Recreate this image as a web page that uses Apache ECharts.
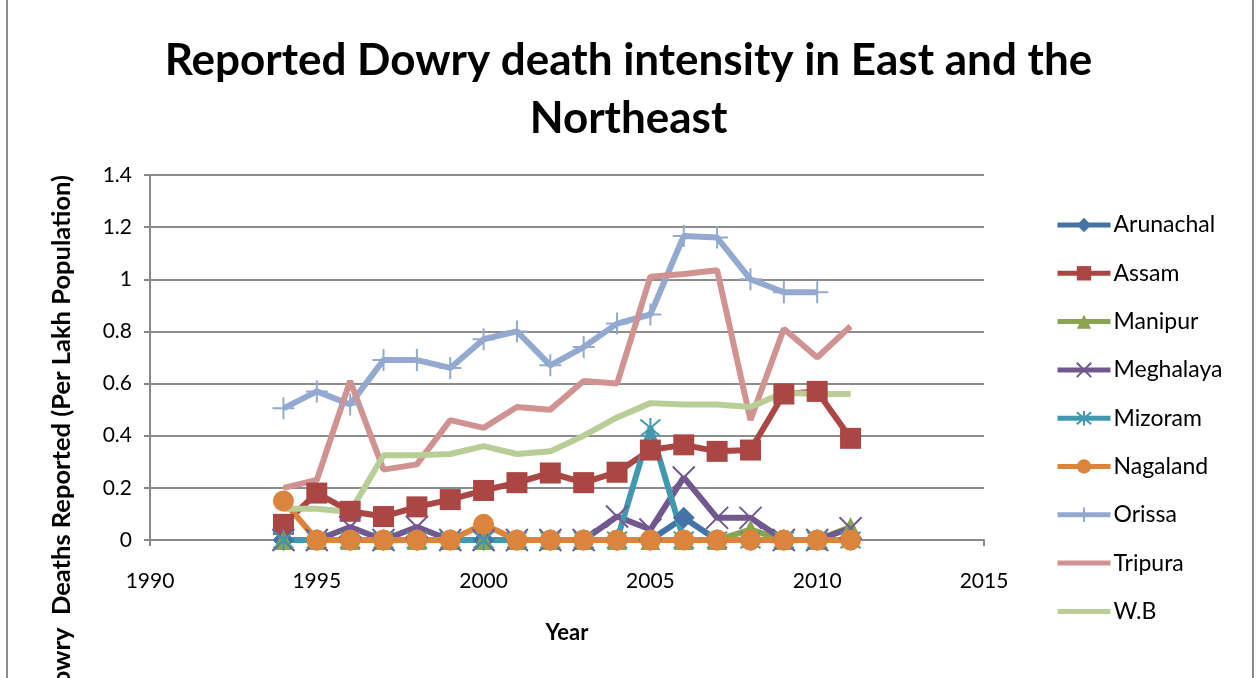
<!DOCTYPE html>
<html lang="en">
<head>
    <meta charset="UTF-8">
    <title>Dowry death intensity - East and Northeast</title>
    <style>
        html, body { margin: 0; padding: 0; background: #fff; }
        #main { width: 1257px; height: 678px; }
    </style>
    <script src="https://cdn.jsdelivr.net/npm/echarts@6/dist/echarts.min.js"></script>
</head>
<body>
<div id="main"></div>
<script type="text/javascript">
    // years on the x axis
    var years = [1994, 1995, 1996, 1997, 1998, 1999, 2000, 2001, 2002, 2003, 2004, 2005, 2006, 2007, 2008, 2009, 2010, 2011];

    var arunachal = [0, 0, 0, 0, 0, 0, 0, 0, 0, 0, 0, 0, 0.085, 0, 0, 0, 0, 0];
    var assam     = [0.06, 0.18, 0.11, 0.09, 0.127, 0.155, 0.19, 0.22, 0.257, 0.22, 0.26, 0.345, 0.365, 0.34, 0.345, 0.56, 0.57, 0.39];
    var manipur   = [0, 0, 0, 0, 0, 0, 0, 0, 0, 0, 0, 0, 0, 0, 0.04, 0, 0, 0.05];
    var meghalaya = [0, 0, 0.05, 0, 0.05, 0, 0, 0, 0, 0, 0.09, 0.04, 0.24, 0.085, 0.085, 0, 0, 0.045];
    var mizoram   = [0, 0, 0, 0, 0, 0, 0, 0, 0, 0, 0, 0.43, 0, 0, 0, 0, 0, 0];
    var nagaland  = [0.15, 0, 0, 0, 0, 0, 0.06, 0, 0, 0, 0, 0, 0, 0, 0, 0, 0, 0];
    var orissa    = [0.505, 0.57, 0.52, 0.69, 0.69, 0.66, 0.77, 0.80, 0.67, 0.74, 0.83, 0.865, 1.166, 1.16, 1.00, 0.95, 0.95, null];
    var tripura   = [0.20, 0.23, 0.61, 0.27, 0.29, 0.46, 0.43, 0.51, 0.50, 0.61, 0.60, 1.01, 1.02, 1.035, 0.46, 0.81, 0.70, 0.82];
    var wb        = [0.12, 0.12, 0.107, 0.325, 0.325, 0.33, 0.36, 0.33, 0.34, 0.40, 0.47, 0.525, 0.52, 0.52, 0.51, 0.565, 0.56, 0.56];

    var xTicks = [1990, 1995, 2000, 2005, 2010, 2015];
    var yTicks = [0, 0.2, 0.4, 0.6, 0.8, 1, 1.2, 1.4];

    var FONT = 'Lato';

    function pairs(vals) {
        var out = [];
        for (var i = 0; i < years.length; i++) {
            if (vals[i] !== null) out.push([years[i], vals[i]]);
        }
        return out;
    }

    // stroke-only marker shapes (x, asterisk, plus)
    var xPath = 'path://M0,0L10,10M10,0L0,10';
    var starPath = 'path://M0,0L10,10M10,0L0,10M5,-1L5,11';
    var plusPath = 'path://M5,0L5,10M0,5L10,5';

    function mk(name, vals, color, symbol, size, stroke) {
        var s = {
            name: name,
            type: 'line',
            data: pairs(vals),
            symbol: symbol,
            symbolSize: size,
            showSymbol: symbol !== 'none',
            lineStyle: { color: color, width: 6 },
            itemStyle: { color: color },
            z: 2
        };
        if (stroke) {
            s.itemStyle = { color: 'none', borderColor: color, borderWidth: 2 };
        }
        if (symbol === 'none') {
            // no marker, also keep it out of the legend icon
            s.itemStyle = { color: color, opacity: 0 };
        }
        return s;
    }

    var myChart = echarts.init(document.getElementById('main'));
    var option = {
        animation: false,
        backgroundColor: '#fff',
        textStyle: { fontFamily: FONT },
        title: {
            text: 'Reported Dowry death intensity in East and the\nNortheast',
            left: 'center',
            top: 27,
            textStyle: { fontFamily: FONT, fontSize: 44, fontWeight: 'bold', color: '#000', lineHeight: 58 }
        },
        grid: { left: 150, right: 273, top: 175, bottom: 138 },
        legend: {
            orient: 'vertical',
            left: 1050,
            top: 207,
            itemWidth: 53,
            itemHeight: 18,
            itemGap: 22.3,
            lineStyle: { width: 5 },
            textStyle: { fontFamily: FONT, fontSize: 23, color: '#000', lineHeight: 26, padding: [0, 0, 0, -2] }
        },
        xAxis: {
            type: 'value',
            min: xTicks[0],
            max: xTicks[xTicks.length - 1],
            interval: 5,
            name: 'Year',
            nameLocation: 'middle',
            nameGap: 82,
            nameTextStyle: { fontFamily: FONT, fontSize: 22, fontWeight: 'bold', color: '#000' },
            axisLine: { lineStyle: { color: '#888', width: 2 } },
            axisTick: { show: true, length: 6, lineStyle: { color: '#888', width: 2 } },
            axisLabel: { fontFamily: FONT, fontSize: 21, color: '#000', margin: 31, formatter: function (v) { return String(v); } },
            splitLine: { show: false }
        },
        yAxis: {
            type: 'value',
            min: yTicks[0],
            max: yTicks[yTicks.length - 1],
            interval: 0.2,
            axisLine: { show: true, lineStyle: { color: '#888', width: 2 } },
            axisTick: { show: true, length: 6, lineStyle: { color: '#888', width: 2 } },
            axisLabel: { fontFamily: FONT, fontSize: 21, color: '#000', margin: 18 },
            splitLine: { lineStyle: { color: '#8c8c8c', width: 2 } }
        },
        graphic: [
            {
                type: 'text',
                x: 62,
                y: 175,
                rotation: Math.PI / 2,
                style: {
                    text: 'Dowry  Deaths Reported (Per Lakh Population)',
                    fontFamily: FONT,
                    fontSize: 25.5,
                    fontWeight: 'bold',
                    fill: '#000',
                    align: 'right',
                    verticalAlign: 'middle'
                }
            },
            {
                type: 'rect',
                shape: { x: 7, y: -10, width: 1246, height: 700 },
                style: { fill: 'none', stroke: '#8a8a8a', lineWidth: 2 },
                silent: true
            }
        ],
        series: [
            mk('Arunachal', arunachal, '#4572A7', 'diamond', 22),
            mk('Assam', assam, '#AA4643', 'rect', 21),
            mk('Manipur', manipur, '#89A54E', 'triangle', 20),
            mk('Meghalaya', meghalaya, '#71588F', xPath, 22, true),
            mk('Mizoram', mizoram, '#4198AF', starPath, 20, true),
            mk('Nagaland', nagaland, '#DB843D', 'circle', 21),
            mk('Orissa', orissa, '#93A9CF', plusPath, 22, true),
            mk('Tripura', tripura, '#D19392', 'none', 0),
            mk('W.B', wb, '#B9CD96', 'none', 0)
        ]
    };
    myChart.setOption(option);
</script>
</body>
</html>
